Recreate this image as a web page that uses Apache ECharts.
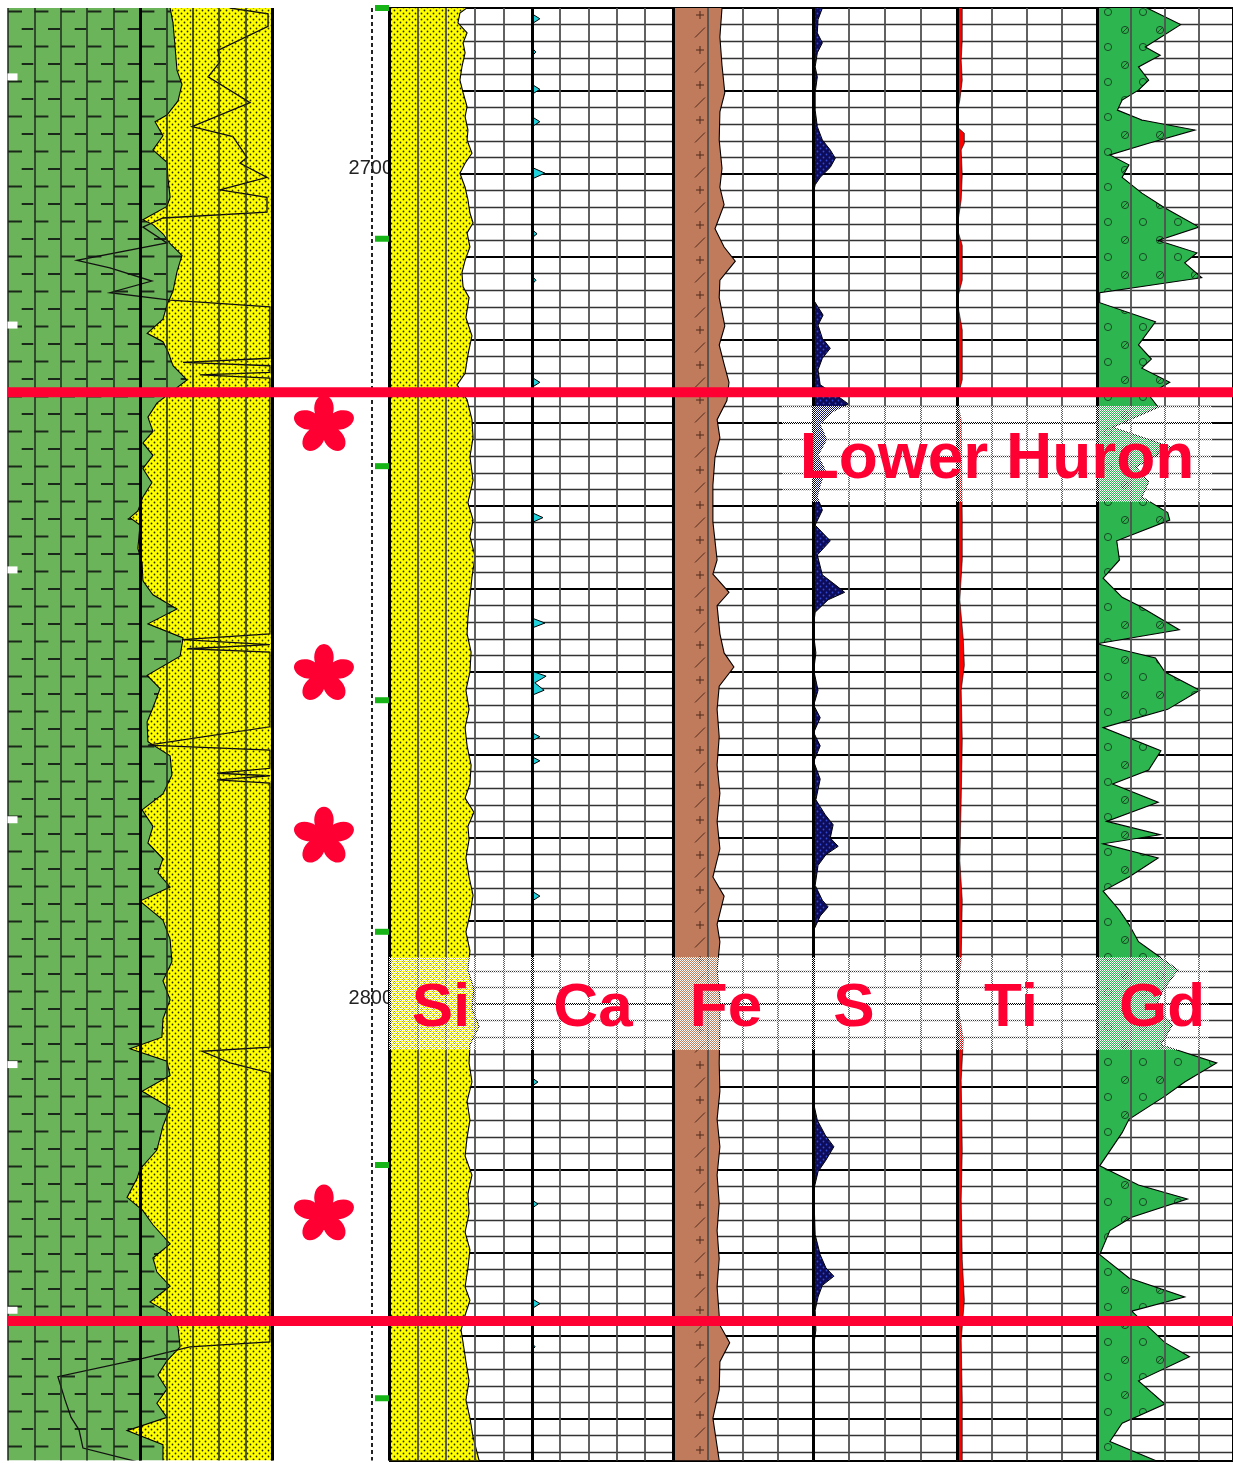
<!DOCTYPE html>
<html>
<head>
<meta charset="utf-8">
<script src="https://cdn.jsdelivr.net/npm/echarts@6.0.0/dist/echarts.min.js"></script>
<style>
html,body{margin:0;padding:0;background:#ffffff;}
#chart{width:1233px;height:1463px;}
</style>
</head>
<body>
<div id="chart"></div>
<script>
// ---------------- DATA (depth in ft, values in track units) ----------------
const depthMin = 2680, depthMax = 2855;
const depthLabels = [2700, 2800];
const formationTops = [2726.3, 2838.2];
const formationName = 'Lower Huron';
const elementNames = ['Si', 'Ca', 'Fe', 'S', 'Ti', 'Gd'];
const sampleDepths = [2730.0, 2760.0, 2779.6, 2825.1];          // red asterisks
const coreMarkDepths = [2680.0, 2707.8, 2735.2, 2763.4, 2791.3, 2819.4, 2847.5]; // green ticks
const edgeMarkDepths = [2688.3, 2718.2, 2747.7, 2777.8, 2807.3, 2836.9];         // white edge marks

// lithology track (0-100): shale/sand boundary
const lithoBoundary = [[61.4,2680.0],[62.5,2681.8],[63.3,2684.7],[64.0,2687.5],[65.9,2689.2],[64.4,2691.2],[60.2,2692.9],[55.7,2693.7],[58.7,2695.4],[54.9,2697.1],[60.2,2698.6],[60.6,2700.5],[61.4,2702.8],[60.2,2703.9],[51.1,2705.5],[54.9,2706.1],[58.7,2707.2],[61.4,2708.4],[65.9,2709.8],[64.0,2711.8],[62.5,2714.1],[60.2,2715.8],[58.7,2717.5],[52.7,2719.2],[58.7,2720.2],[60.6,2721.4],[62.5,2723.1],[67.8,2724.8],[56.4,2727.6],[53.0,2729.3],[54.9,2731.0],[51.1,2732.4],[54.9,2733.9],[51.1,2735.5],[54.5,2737.2],[51.1,2738.9],[49.2,2740.6],[46.2,2741.4],[50.0,2742.3],[49.2,2745.1],[50.8,2746.9],[51.1,2749.0],[54.9,2750.7],[64.0,2752.4],[53.0,2754.2],[66.3,2755.9],[65.2,2758.1],[52.7,2760.4],[57.6,2762.0],[54.9,2764.3],[52.7,2766.0],[53.0,2768.4],[61.4,2770.1],[62.1,2772.4],[58.7,2774.7],[50.8,2776.6],[54.9,2778.6],[53.0,2780.6],[58.7,2782.5],[56.8,2784.2],[61.4,2785.9],[50.0,2787.6],[58.7,2789.9],[61.4,2792.2],[62.1,2794.9],[58.7,2797.2],[61.4,2799.5],[58.7,2801.8],[58.3,2804.0],[46.2,2805.4],[60.2,2806.9],[61.4,2808.6],[50.8,2810.5],[61.4,2812.5],[58.7,2814.7],[56.4,2817.6],[50.0,2819.9],[48.9,2821.0],[45.1,2823.3],[51.1,2824.9],[54.9,2826.6],[61.4,2828.9],[54.9,2830.6],[56.4,2832.3],[61.4,2834.0],[53.8,2835.9],[61.4,2837.3],[64.4,2839.0],[65.2,2841.3],[60.2,2843.0],[56.8,2844.7],[60.2,2846.4],[56.4,2848.1],[60.2,2849.8],[45.1,2851.4],[58.7,2853.1],[58.7,2855.0]];

// lithology track (0-100): thin black log curve
const lithoCurve = [[84.1,2680.0],[98.5,2680.7],[98.5,2682.2],[79.5,2685.1],[80.3,2686.5],[75.8,2688.3],[91.7,2691.4],[69.7,2694.3],[85.2,2695.5],[90.5,2698.0],[87.9,2698.7],[98.1,2700.4],[80.3,2701.9],[98.1,2702.8],[98.1,2704.6],[58.7,2705.3],[51.1,2706.4],[60.2,2708.3],[26.1,2710.4],[38.6,2711.3],[54.5,2712.9],[38.6,2714.3],[61.4,2715.2],[99.2,2716.0],[99.2,2722.2],[66.3,2722.7],[99.2,2723.1],[99.2,2723.9],[72.7,2724.2],[99.2,2724.6],[99.2,2755.4],[65.9,2756.1],[99.2,2756.7],[67.8,2757.2],[99.2,2757.6],[99.2,2766.6],[53.0,2768.8],[99.2,2769.4],[99.2,2771.6],[79.2,2772.2],[99.2,2772.5],[79.2,2773.0],[99.2,2773.4],[99.2,2805.2],[73.5,2805.7],[84.1,2807.1],[99.2,2808.3],[99.2,2840.7],[68.9,2841.3],[51.1,2842.7],[18.9,2844.9],[21.6,2847.7],[23.9,2849.8],[26.9,2851.3],[28.4,2853.5],[49.6,2855.2]];

// Si (0-50)
const siValues = [[27.6,2679.9],[24.8,2680.6],[24.1,2681.8],[27.3,2683.0],[25.9,2684.2],[26.6,2685.4],[25.5,2687.1],[24.8,2688.7],[25.9,2690.2],[27.3,2691.9],[26.6,2693.1],[27.6,2694.7],[27.3,2695.9],[29.0,2697.5],[26.6,2698.7],[24.8,2699.9],[26.6,2701.6],[27.6,2703.1],[28.3,2704.7],[29.4,2705.9],[27.3,2707.1],[28.3,2708.8],[26.6,2710.4],[25.5,2711.9],[25.9,2713.6],[28.0,2714.9],[26.9,2717.3],[29.0,2719.5],[27.6,2721.8],[26.6,2724.0],[23.8,2725.4],[25.5,2726.3],[27.3,2727.2],[29.0,2729.6],[29.4,2731.7],[28.3,2734.1],[29.4,2736.9],[27.6,2739.6],[29.4,2741.7],[28.3,2743.7],[30.1,2746.1],[29.0,2748.6],[28.3,2751.0],[27.6,2753.4],[27.3,2755.4],[28.7,2757.6],[28.3,2760.0],[26.9,2762.2],[28.0,2764.5],[26.6,2766.7],[27.3,2768.9],[28.7,2771.2],[28.3,2773.5],[26.6,2775.2],[29.7,2776.9],[27.6,2778.6],[28.0,2780.2],[26.9,2782.4],[28.0,2784.7],[29.4,2786.9],[28.3,2789.2],[26.9,2791.3],[28.3,2793.6],[27.6,2795.9],[29.7,2798.2],[29.0,2800.5],[31.5,2802.7],[28.3,2804.9],[28.0,2807.1],[29.0,2809.4],[27.3,2811.7],[28.3,2814.0],[27.3,2816.1],[26.6,2818.3],[29.0,2820.6],[27.6,2822.9],[28.0,2825.2],[26.6,2827.5],[28.3,2829.6],[27.6,2831.8],[26.6,2834.1],[28.3,2835.7],[26.6,2837.5],[25.2,2839.3],[25.9,2840.8],[26.9,2843.1],[28.0,2845.4],[26.9,2847.7],[28.3,2849.9],[29.4,2852.2],[31.5,2855.0]];

// Ca (0-50)
const caValues = [[0,2680],[0,2680.7],[2.8,2681.3],[0,2681.9],[0,2684.8],[1.4,2685.3],[0,2685.8],[0,2689.2],[2.8,2689.8],[0,2690.4],[0,2693.1],[2.8,2693.7],[0,2694.3],[0,2699.2],[4.6,2699.9],[0,2700.6],[0,2706.7],[1.8,2707.2],[0,2707.7],[0,2712.3],[1.4,2712.8],[0,2713.3],[0,2724.5],[2.8,2725.1],[0,2725.7],[0,2740.8],[3.9,2741.4],[0,2742.0],[0,2753.5],[4.6,2754.1],[0,2754.7],[0,2759.9],[5.0,2760.5],[1.0,2761.3],[4.3,2762.2],[0,2762.8],[0,2767.3],[2.8,2767.8],[0,2768.3],[0,2770.2],[2.8,2770.7],[0,2771.2],[0,2786.4],[2.8,2787.0],[0,2787.6],[0,2808.9],[2.1,2809.4],[0,2809.9],[0,2823.6],[2.1,2824.1],[0,2824.6],[0,2835.5],[2.8,2836.1],[0,2836.7],[0,2840.9],[1.1,2841.3],[0,2841.7],[0,2855]];

// Fe (0-20)
const feValues = [[7.0,2680.0],[6.7,2683.5],[7.0,2686.9],[7.4,2690.2],[6.7,2692.5],[6.6,2695.9],[7.0,2699.3],[6.7,2701.6],[7.3,2703.7],[6.0,2706.6],[7.3,2708.8],[8.9,2710.5],[6.7,2712.8],[6.6,2714.9],[7.4,2718.3],[6.6,2720.6],[7.3,2722.9],[8.0,2725.1],[7.7,2727.3],[6.3,2729.6],[6.7,2731.8],[6.0,2734.1],[5.7,2737.5],[5.7,2741.9],[6.3,2746.5],[5.7,2748.2],[8.0,2750.4],[6.3,2752.0],[6.7,2755.4],[7.3,2757.7],[8.7,2759.4],[6.6,2761.7],[6.3,2764.5],[6.6,2767.8],[6.3,2771.2],[6.7,2774.6],[6.3,2778.0],[6.7,2781.3],[5.7,2784.7],[7.3,2787.0],[6.3,2790.4],[6.7,2792.5],[6.3,2795.9],[6.7,2799.3],[6.7,2802.7],[6.6,2807.1],[6.7,2810.5],[6.3,2813.9],[6.7,2817.2],[6.3,2820.6],[6.6,2824.0],[6.3,2827.3],[6.6,2830.7],[6.3,2834.1],[6.7,2838.7],[8.1,2840.8],[6.7,2843.1],[6.6,2846.5],[5.7,2849.9],[6.3,2853.3],[6.6,2855.0]];

// S (0-20)
const sValues = [[1.3,2680.0],[0.7,2681.4],[0.6,2683.0],[1.3,2684.2],[0.6,2685.4],[0.3,2687.1],[0.6,2688.3],[0.3,2690.2],[0.3,2692.3],[0.6,2694.3],[1.3,2695.9],[2.4,2697.1],[3.1,2698.1],[2.4,2699.2],[1.0,2700.4],[0.3,2701.3],[0,2702.5],[0.1,2715.2],[1.4,2717.0],[0.7,2718.2],[1.3,2719.8],[2.4,2721.0],[1.3,2722.2],[0.7,2723.6],[1.0,2725.4],[3.8,2727.0],[4.9,2727.7],[2.6,2728.7],[1.0,2730.2],[1.9,2732.0],[0.7,2733.9],[1.7,2735.7],[1.0,2737.5],[0.6,2738.9],[1.3,2740.5],[0.3,2742.3],[2.4,2744.2],[0.6,2745.9],[1.3,2748.3],[3.1,2749.5],[4.4,2750.4],[2.1,2751.3],[0.3,2752.8],[0,2754.9],[0.4,2757.7],[0.1,2759.8],[0.7,2762.2],[0.1,2764.0],[1.0,2765.5],[0.1,2767.3],[1.0,2768.9],[0.1,2770.8],[1.0,2772.9],[0.4,2775.4],[1.7,2777.2],[2.8,2778.4],[2.4,2780.0],[3.5,2781.0],[1.8,2782.0],[0.7,2783.3],[0.3,2785.7],[1.3,2787.5],[2.1,2788.3],[1.0,2789.4],[0.1,2791.1],[0,2794.7],[0,2811.6],[0.6,2814.0],[1.7,2815.8],[2.9,2817.2],[1.8,2818.8],[0.7,2820.2],[0.1,2822.4],[0.3,2827.8],[1.0,2830.2],[1.8,2831.8],[2.9,2832.8],[1.3,2833.9],[0.7,2835.3],[0.3,2836.9],[0.4,2839.3],[0,2841.7],[0,2855.0]];

// Ti (0-4)
const tiValues = [[0.15,2680.0],[0.15,2683.9],[0.12,2686.3],[0.15,2688.7],[0.08,2691.1],[0,2692.9],[0,2694.3],[0.21,2695.1],[0.21,2696.3],[0.12,2697.1],[0.15,2700.1],[0.12,2703.1],[0,2706.5],[0.15,2708.6],[0.15,2712.8],[0,2715.2],[0.15,2718.8],[0.15,2724.8],[0,2727.2],[0.12,2729.6],[0.15,2741.7],[0.15,2746.5],[0.08,2751.3],[0.18,2756.1],[0.21,2759.2],[0.12,2762.2],[0.15,2768.2],[0.12,2775.4],[0.08,2782.7],[0.15,2787.5],[0.12,2794.7],[0,2799.5],[0.18,2804.3],[0.12,2809.2],[0.15,2817.6],[0.12,2823.6],[0.15,2830.8],[0.21,2835.7],[0.12,2840.5],[0.15,2847.7],[0.15,2855.0]];

// Gd (0-20)
const gdValues = [[7.1,2679.9],[12.3,2682.0],[7.1,2684.7],[9.3,2685.7],[6.1,2687.1],[7.6,2688.7],[6.1,2689.9],[3.7,2691.1],[3.0,2692.3],[6.6,2693.5],[14.4,2694.7],[7.6,2696.3],[1.9,2697.7],[4.7,2698.9],[3.7,2700.4],[6.6,2702.3],[10.0,2704.1],[15.0,2706.4],[9.0,2708.0],[14.7,2709.5],[12.9,2710.7],[15.4,2712.5],[0.4,2714.3],[0.4,2715.5],[8.6,2717.8],[6.1,2720.6],[8.0,2722.3],[6.6,2723.4],[10.7,2725.1],[7.6,2726.6],[9.0,2728.1],[2.3,2730.5],[10.9,2732.9],[5.7,2735.3],[7.6,2737.1],[6.6,2738.9],[10.4,2740.8],[10.7,2741.7],[2.9,2744.2],[3.3,2746.5],[0.9,2748.7],[3.7,2751.0],[6.1,2752.0],[12.1,2754.9],[0,2756.6],[8.6,2758.3],[10.0,2760.0],[15.1,2762.2],[10.4,2764.5],[0.9,2766.7],[9.4,2769.5],[7.6,2771.8],[2.3,2773.5],[9.0,2775.7],[1.4,2778.0],[9.3,2779.6],[0.9,2780.7],[9.0,2782.4],[4.7,2784.7],[0.9,2786.4],[3.3,2788.7],[4.7,2790.4],[6.1,2792.5],[11.9,2795.9],[9.7,2798.3],[8.6,2800.4],[11.1,2802.5],[9.4,2804.9],[17.6,2807.1],[12.9,2809.4],[10.0,2811.1],[4.7,2813.9],[3.7,2815.5],[0.4,2819.5],[6.1,2821.8],[13.3,2823.5],[5.1,2825.7],[1.9,2827.3],[0.4,2830.2],[4.7,2833.0],[12.9,2835.3],[5.1,2837.0],[10.0,2840.8],[13.6,2842.5],[6.1,2845.4],[10.0,2848.2],[3.7,2850.5],[1.9,2852.7],[8.6,2855.0]];

// ---------------- STYLES / PATTERNS ----------------
function tile(w, h, bg, draw) {
  const c = document.createElement('canvas');
  c.width = w; c.height = h;
  const g = c.getContext('2d');
  if (bg) { g.fillStyle = bg; g.fillRect(0, 0, w, h); }
  if (draw) draw(g);
  return { image: c, repeat: 'repeat' };
}
function dot(g, x, y, r) { g.beginPath(); g.arc(x, y, r, 0, Math.PI * 2); g.fill(); }

const sandFill = tile(6, 6, '#ffff00', g => { g.fillStyle = '#2a2a00'; dot(g, 1.5, 1.5, 0.9); dot(g, 4.5, 4.5, 0.9); });
const shaleFill = tile(53, 35, '#6cb45a', g => {
  g.strokeStyle = '#1a281a'; g.lineWidth = 1.8; g.beginPath();
  g.moveTo(8, 11.5); g.lineTo(22, 11.5); g.moveTo(34.4, 11.5); g.lineTo(48.4, 11.5);
  g.moveTo(21.7, 29); g.lineTo(33.3, 29); g.moveTo(48, 29); g.lineTo(53, 29); g.moveTo(0, 29); g.lineTo(7, 29);
  g.stroke();
});
const feFill = tile(60, 35, '#c07a5c', g => {
  g.strokeStyle = '#4e2a1a'; g.lineWidth = 1; g.beginPath();
  g.moveTo(36, 15); g.lineTo(44, 15); g.moveTo(40, 11); g.lineTo(40, 19);
  g.moveTo(35, 37.5); g.lineTo(45, 27.5); g.moveTo(35, 2.5); g.lineTo(45, -7.5);
  g.stroke();
});
const gdFill = tile(35, 35, '#2db550', g => {
  g.strokeStyle = '#184a24'; g.lineWidth = 1;
  g.beginPath(); g.arc(23, 12, 3.6, 0, Math.PI * 2); g.stroke();
  g.beginPath(); g.arc(5, 30, 3.6, 0, Math.PI * 2); g.stroke();
  g.beginPath(); g.moveTo(2, 33); g.lineTo(8, 27); g.stroke();
});
const sFill = tile(6, 6, '#0c0c5a', g => { g.fillStyle = '#3448d0'; dot(g, 1.5, 1.5, 0.9); dot(g, 4.5, 4.5, 0.9); });
const dither = tile(2, 2, null, g => { g.fillStyle = '#ffffff'; g.fillRect(0, 0, 1, 1); g.fillRect(1, 1, 1, 1); });

const RED = '#ff0033';

function asteriskPath() {
  const cx = 50, cy = 50, parts = [];
  const ring = pts => 'M' + pts.map(p => p[0].toFixed(2) + ' ' + p[1].toFixed(2)).join('L') + 'Z';
  for (let k = 0; k < 5; k++) {
    const th = (-90 + 72 * k) * Math.PI / 180;
    const ux = Math.cos(th), uy = Math.sin(th), tx = -uy, ty = ux, pts = [];
    for (let j = 0; j < 28; j++) {
      const ph = 2 * Math.PI * j / 28, r = 27 + 21 * Math.cos(ph), s = 15 * Math.sin(ph);
      pts.push([cx + ux * r + tx * s, cy + uy * r + ty * s]);
    }
    parts.push(ring(pts));
  }
  const c = [];
  for (let j = 0; j < 24; j++) { const ph = 2 * Math.PI * j / 24; c.push([cx + 12 * Math.cos(ph), cy + 12 * Math.sin(ph)]); }
  parts.push(ring(c));
  return 'path://' + parts.join(' ');
}

// ---------------- LAYOUT ----------------
const TOP = 8, HEIGHT = 1452.5;
const tracks = [
  { left: 8,    width: 264,  max: 100, n: 10, hgrid: false },          // 0 lithology
  { left: 272,  width: 117,  max: 100, n: 1,  hgrid: false, depth: true }, // 1 depth
  { left: 389,  width: 143,  max: 50,  n: 5,  hgrid: true },           // 2 Si
  { left: 532,  width: 141,  max: 50,  n: 5,  hgrid: true },           // 3 Ca
  { left: 673,  width: 140,  max: 20,  n: 4,  hgrid: true },           // 4 Fe
  { left: 813,  width: 144,  max: 20,  n: 4,  hgrid: true },           // 5 S
  { left: 957,  width: 140,  max: 4,   n: 4,  hgrid: true },           // 6 Ti
  { left: 1097, width: 140,  max: 20,  n: 4,  hgrid: true },           // 7 Gd
  { left: 8,    width: 1225, max: 1,   n: 1,  hgrid: false, overlay: true } // 8 overlay
];

const grids = tracks.map(t => ({ left: t.left, width: t.width, top: TOP, height: HEIGHT, show: false, containLabel: false }));
const xAxes = [];
tracks.forEach((t, i) => {
  const lines = !t.depth && !t.overlay;
  xAxes.push({ gridIndex: i, type: 'value', min: 0, max: t.max, interval: t.max / t.n, z: 3,
    axisLine: { show: false }, axisTick: { show: false }, axisLabel: { show: false },
    splitLine: { show: lines, lineStyle: { color: i === 0 ? '#1e2a1e' : '#505050', width: i === 0 ? 1.5 : 1.8 } } });
  xAxes.push({ gridIndex: i, type: 'value', min: 0, max: t.max, interval: i === 0 ? 50 : t.max, z: 4,
    axisLine: { show: false }, axisTick: { show: false }, axisLabel: { show: false },
    splitLine: { show: lines, showMinLine: i !== 0, showMaxLine: true, lineStyle: { color: '#000', width: 3 } } });
});
const yAxes = tracks.map((t, i) => ({
  gridIndex: i, type: 'value', inverse: true, min: depthMin, max: depthMax, interval: 10,
  position: t.depth ? 'right' : 'left', z: t.depth ? 1 : 0,
  axisLine: { show: false }, axisTick: { show: false },
  axisLabel: t.depth ? {
    show: true, inside: true, margin: -4, fontSize: 20, color: '#222',
    fontFamily: '"Liberation Sans", Arial, sans-serif', verticalAlign: 'bottom', lineHeight: 12,
    formatter: v => depthLabels.indexOf(v) >= 0 ? String(v) : ''
  } : { show: false },
  splitLine: { show: t.hgrid, lineStyle: { color: '#000', width: 2.2 } },
  minorTick: { show: false, splitNumber: 5 },
  minorSplitLine: { show: t.hgrid, lineStyle: { color: '#333', width: 1.4 } }
}));

// fill between base value and curve
function fillSeries(trackIdx, pts, base, fill, stroke, lw) {
  return {
    type: 'custom', xAxisIndex: trackIdx * 2, yAxisIndex: trackIdx, data: pts, clip: true, silent: true, z: 2,
    renderItem: (params, api) => {
      if (params.dataIndex !== 0) return null;
      const curve = pts.map(p => api.coord(p));
      const poly = [api.coord([base, pts[0][1]])].concat(curve, [api.coord([base, pts[pts.length - 1][1]])]);
      return { type: 'group', children: [
        { type: 'polygon', shape: { points: poly }, style: { fill: fill, stroke: null } },
        { type: 'polyline', shape: { points: curve }, style: { fill: null, stroke: stroke || '#000', lineWidth: lw || 1.2 } }
      ] };
    }
  };
}

const series = [];
// lithology track: shale (green) left of boundary, sand (yellow) right of it
series.push({
  type: 'custom', xAxisIndex: 0, yAxisIndex: 0, data: lithoBoundary, clip: true, silent: true, z: 2,
  renderItem: (params, api) => {
    if (params.dataIndex !== 0) return null;
    const curve = lithoBoundary.map(p => api.coord(p));
    const f = lithoBoundary[0][1], l = lithoBoundary[lithoBoundary.length - 1][1];
    const green = [api.coord([0, f])].concat(curve, [api.coord([0, l])]);
    const yellow = [api.coord([100, f])].concat(curve, [api.coord([100, l])]);
    return { type: 'group', children: [
      { type: 'polygon', shape: { points: green }, style: { fill: shaleFill } },
      { type: 'polygon', shape: { points: yellow }, style: { fill: sandFill } },
      { type: 'polyline', shape: { points: curve }, style: { fill: null, stroke: '#000', lineWidth: 1.1 } }
    ] };
  }
});
series.push({
  type: 'custom', xAxisIndex: 0, yAxisIndex: 0, data: lithoCurve, clip: true, silent: true, z: 2.5,
  renderItem: (params, api) => {
    if (params.dataIndex !== 0) return null;
    return { type: 'polyline', shape: { points: lithoCurve.map(p => api.coord(p)) },
      style: { fill: null, stroke: '#111', lineWidth: 1.3 } };
  }
});
series.push({
  type: 'scatter', xAxisIndex: 0, yAxisIndex: 0, silent: true, z: 6,
  data: edgeMarkDepths.map(d => [1.7, d]), symbol: 'rect', symbolSize: [10, 7],
  itemStyle: { color: '#ffffff', opacity: 1 }
});
// depth track
series.push({
  type: 'scatter', xAxisIndex: 2, yAxisIndex: 1, silent: true, z: 5,
  data: coreMarkDepths.map(d => [94, d]), symbol: 'rect', symbolSize: [14, 6],
  itemStyle: { color: '#16b416', opacity: 1 },
  markLine: { silent: true, symbol: ['none', 'none'], label: { show: false },
    lineStyle: { color: '#222', width: 2, type: [4, 3] }, data: [{ xAxis: 85.5 }] }
});
series.push({
  type: 'scatter', xAxisIndex: 2, yAxisIndex: 1, silent: true, z: 5,
  data: sampleDepths.map(d => [44.4, d]), symbol: asteriskPath(), symbolSize: [60, 58], symbolKeepAspect: true,
  itemStyle: { color: RED, opacity: 1 }
});
// element tracks
series.push(fillSeries(2, siValues, 0, sandFill, '#000', 1.1));
series.push(fillSeries(3, caValues, 0, '#22d3de', '#000', 1));
series.push(fillSeries(4, feValues, 0, feFill, '#000', 1.1));
series.push(fillSeries(5, sValues, 0, sFill, '#000', 1));
series.push(fillSeries(6, tiValues, 0, '#ff0000', '#000', 0.6));
series.push(fillSeries(7, gdValues, 0, gdFill, '#000', 1.1));
// formation tops (red lines across all tracks)
series.push({
  type: 'custom', xAxisIndex: 16, yAxisIndex: 8, data: formationTops.map(d => [0, d]), silent: true, z: 20,
  renderItem: (params, api) => {
    const a = api.coord([0, api.value(1)]), b = api.coord([1, api.value(1)]);
    return { type: 'line', shape: { x1: a[0], y1: a[1], x2: b[0], y2: b[1] }, style: { stroke: RED, lineWidth: 10 } };
  }
});

const labelFont = 'bold 62px "Liberation Sans", Arial, sans-serif';
const elementLabelX = [441, 593, 726, 854, 1011, 1162];
const graphic = [
  { type: 'rect', silent: true, z: 100, shape: { x: 782, y: 406, width: 430, height: 96 }, style: { fill: dither } },
  { type: 'text', silent: true, z: 101, x: 997, y: 460,
    style: { text: formationName, fill: RED, font: 'bold 64px "Liberation Sans", Arial, sans-serif',
      align: 'center', verticalAlign: 'middle', textAlign: 'center', textVerticalAlign: 'middle' } },
  { type: 'rect', silent: true, z: 100, shape: { x: 389, y: 957, width: 820, height: 93 }, style: { fill: dither } }
];
elementNames.forEach((name, i) => {
  graphic.push({ type: 'text', silent: true, z: 101, x: elementLabelX[i], y: 1009,
    style: { text: name, fill: RED, font: labelFont, align: 'center', verticalAlign: 'middle', textAlign: 'center', textVerticalAlign: 'middle' } });
});

const chart = echarts.init(document.getElementById('chart'), null, { renderer: 'canvas' });
chart.setOption({
  animation: false,
  backgroundColor: '#ffffff',
  grid: grids,
  xAxis: xAxes,
  yAxis: yAxes,
  series: series,
  graphic: graphic
});
</script>
</body>
</html>
